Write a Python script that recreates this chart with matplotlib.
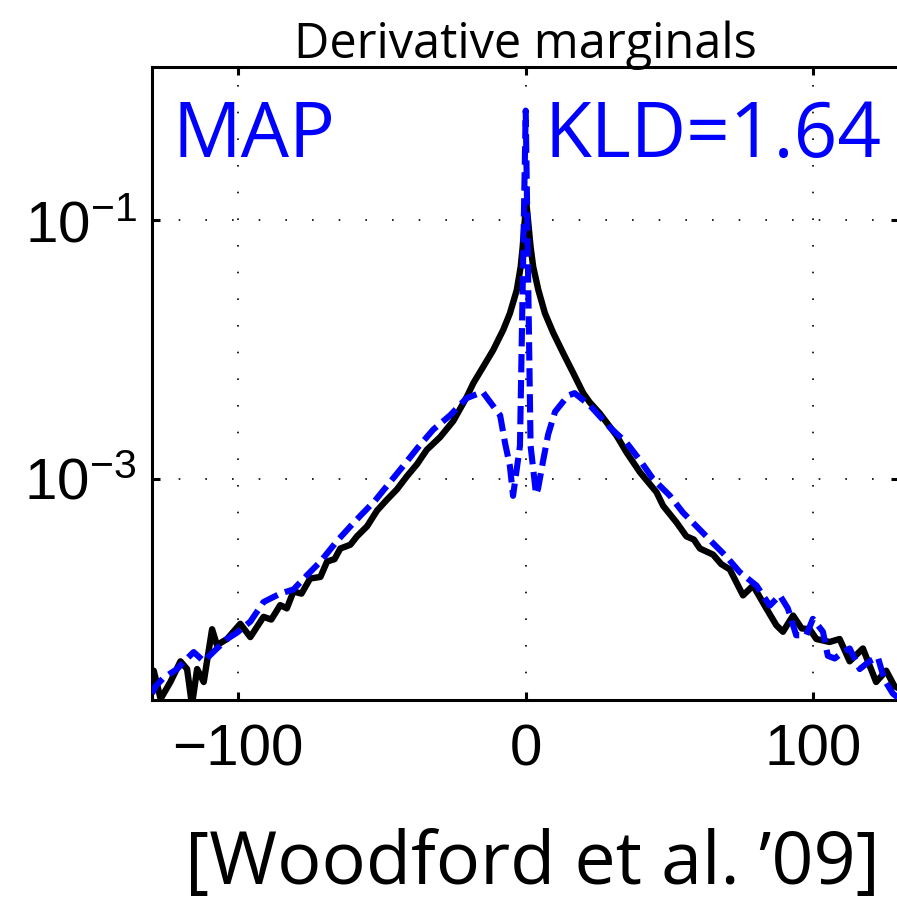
import matplotlib
matplotlib.use("Agg")
import matplotlib.pyplot as plt

# Empirical marginal of image derivatives (solid) and MAP estimate (dashed)
black_x = [-130, -129.4, -127, -123.6, -120.1, -117.8, -116.1, -114.3, -112, -109.1,
           -107.4, -103.9, -99.3, -95.8, -91.2, -88.5, -85.4, -83.1, -80.8, -78.0,
           -75.0, -71.4, -69.1, -66.5, -64.5, -61.0, -58.7, -55.2, -51.7, -48.3,
           -44.8, -41.3, -37.8, -34.4, -29.8, -25.2, -20.5, -18.2, -14.7, -11.3,
           -7.8, -5.5, -3.1, -1.74, -1.05, 0.2, 1.7, 2.6, 4.4, 6.7,
           9.6, 13.1, 16.5, 20.0, 22.3, 25.8, 31.6, 35.1, 39.7, 42.5,
           45.5, 47.8, 52.5, 55.9, 58.5, 60.6, 65.2, 68.0, 71.0, 75.6,
           79.1, 83.7, 87.2, 89.5, 93.0, 96.0, 98.8, 101.1, 105.7, 109.2,
           112.7, 117.3, 121.9, 125.4, 128.3, 130]
black_y = [3.0e-5, 3.3e-5, 2.0e-5, 2.7e-5, 3.9e-5, 3.4e-5, 1.8e-5, 3.4e-5, 2.7e-5, 6.9e-5,
           5.2e-5, 5.8e-5, 7.6e-5, 6.0e-5, 8.6e-5, 8.2e-5, 1.06e-4, 1.0e-4, 1.35e-4, 1.3e-4,
           1.7e-4, 1.75e-4, 2.3e-4, 2.4e-4, 2.9e-4, 3.1e-4, 3.6e-4, 4.3e-4, 5.7e-4, 6.9e-4,
           8.3e-4, 1.05e-3, 1.3e-3, 1.68e-3, 2.1e-3, 2.8e-3, 4.3e-3, 5.5e-3, 7.4e-3, 9.9e-3,
           1.42e-2, 1.9e-2, 2.88e-2, 4.36e-2, 6.2e-2, 0.138, 6.2e-2, 4.36e-2, 2.88e-2, 1.9e-2,
           1.34e-2, 9.3e-3, 6.6e-3, 4.6e-3, 3.9e-3, 3.2e-3, 2.16e-3, 1.6e-3, 1.13e-3, 9.5e-4,
           7.9e-4, 6.2e-4, 4.6e-4, 3.6e-4, 3.4e-4, 2.9e-4, 2.6e-4, 2.2e-4, 2.0e-4, 1.26e-4,
           1.5e-4, 1.0e-4, 7.4e-5, 6.6e-5, 8.8e-5, 7.0e-5, 6.9e-5, 5.8e-5, 5.5e-5, 5.8e-5,
           3.9e-5, 4.9e-5, 2.7e-5, 3.3e-5, 2.5e-5, 2.4e-5]

blue_x = [-130, -128.8, -126, -121.3, -117.8, -115.5, -112, -107.4, -103.9, -100.4,
          -95.8, -91.2, -85.4, -80.8, -76.1, -71.4, -65.7, -61, -57.5, -52.4,
          -47.1, -42.6, -37.4, -32.2, -26.3, -20.6, -15, -8.9, -7.2, -5.5,
          -4.4, -2, 0, 1.7, 3.6, 4.3, 6.0, 7.8, 10.2, 14.7,
          17, 22.3, 29.3, 35.1, 39.7, 44.3, 50.2, 54.7, 59.9, 65.1,
          69.9, 74.5, 80.3, 84.9, 88.4, 91.2, 94.1, 97.6, 99.9, 103.4,
          105.1, 107.5, 110.4, 112.7, 116.2, 119.6, 122.5, 124.8, 127.7, 130]
blue_y = [2.2e-5, 2.5e-5, 2.9e-5, 3.4e-5, 4.1e-5, 4.6e-5, 3.9e-5, 4.9e-5, 5.8e-5, 6.5e-5,
          7.9e-5, 1.12e-4, 1.3e-4, 1.4e-4, 1.8e-4, 2.3e-4, 3.3e-4, 4.3e-4, 5.2e-4, 6.8e-4,
          9.5e-4, 1.26e-3, 1.76e-3, 2.4e-3, 3.1e-3, 4.2e-3, 4.7e-3, 3.1e-3, 1.9e-3, 1.26e-3,
          7.4e-4, 1.8e-3, 0.7, 1.8e-3, 7.6e-4, 8.4e-4, 1.36e-3, 2.2e-3, 3.3e-3, 4.4e-3,
          4.6e-3, 3.7e-3, 2.5e-3, 1.9e-3, 1.4e-3, 1.0e-3, 7.4e-4, 5.5e-4, 4.2e-4, 3.2e-4,
          2.5e-4, 1.9e-4, 1.5e-4, 1.05e-4, 1.26e-4, 1.0e-4, 6.2e-5, 6.2e-5, 8.3e-5, 6.6e-5,
          4.3e-5, 4.1e-5, 4.6e-5, 4.9e-5, 3.4e-5, 3.9e-5, 4.2e-5, 2.8e-5, 2.2e-5, 2.0e-5]

x_ticks = [-100, 0, 100]
x_tick_labels = ["\u2212100", "0", "100"]
y_ticks = [1e-3, 1e-1]
y_tick_labels = [r"$\mathregular{10^{-3}}$", r"$\mathregular{10^{-1}}$"]

plt.rcParams["mathtext.default"] = "regular"

W, H = 897, 906
fig = plt.figure(figsize=(W / 100, H / 100), dpi=100)
ax = fig.add_axes([152 / W, 206 / H, 747.4 / W, 633 / H])

ax.plot(black_x, black_y, color="black", lw=4.6, solid_joinstyle="round", zorder=3)
ax.plot(blue_x, blue_y, color=(0, 0, 1), lw=4.4, dashes=(3, 1.25), zorder=4)

ax.set_yscale("log")
ax.set_xlim(-130, 130)
ax.set_ylim(1.96e-5, 1.52)

ax.set_xticks(x_ticks)
ax.set_xticklabels(x_tick_labels)
ax.set_yticks(y_ticks)
ax.set_yticklabels(y_tick_labels)
ax.yaxis.set_minor_locator(matplotlib.ticker.NullLocator())

for lab in ax.get_xticklabels() + ax.get_yticklabels():
    lab.set_family("Liberation Sans")
    lab.set_fontsize(42)

ax.tick_params(direction="in", length=5.8, width=2.2, top=True, right=True)
ax.tick_params(axis="x", pad=17)
ax.tick_params(axis="y", pad=11)
for sp in ax.spines.values():
    sp.set_linewidth(2.2)

ax.grid(True, which="major", color="black", lw=1.2, ls=(0, (1, 15)))

ax.set_title("Derivative marginals", fontsize=35, family="Open Sans", pad=6.5)

ax.text(0.0268, 0.858, "MAP", transform=ax.transAxes, fontsize=55,
        color=(0, 0, 1), family="Open Sans", va="baseline", ha="left")
ax.text(0.9767, 0.858, "KLD=1.64", transform=ax.transAxes, fontsize=55,
        color=(0, 0, 1), family="Open Sans", va="baseline", ha="right")

fig.text(532 / W, 1 - 884 / H, "[Woodford et al. \u201909]", ha="center",
         va="baseline", fontsize=53, family="Open Sans")

fig.savefig("out.png", dpi=100)
